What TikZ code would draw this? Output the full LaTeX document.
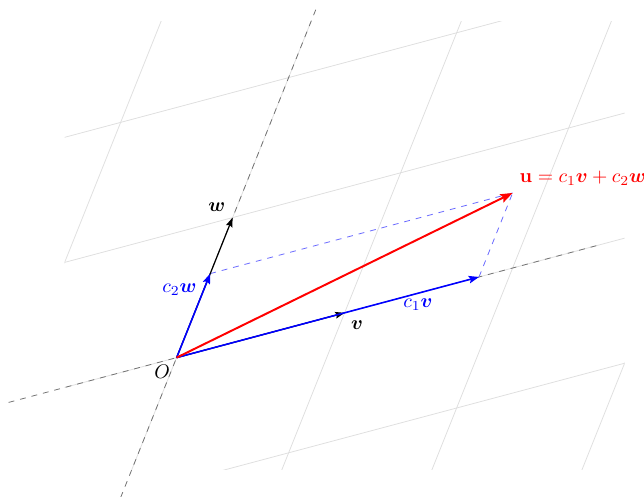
\documentclass[tikz,border=0pt]{standalone}
\usepackage{amsmath}
\usetikzlibrary{arrows.meta}
\begin{document}
\begin{tikzpicture}[x=1cm,y=1cm,
  gridline/.style={gray!25, line width=0.4pt},
  axisline/.style={black!55, dashed, line width=0.4pt},
  helper/.style={blue!60, dashed, line width=0.4pt},
  basevec/.style={black, line width=0.6pt, -{Stealth[length=4.8pt,width=3.4pt,inset=0.8pt]}},
  compvec/.style={blue, line width=0.8pt, -{Stealth[length=5.2pt,width=3.8pt,inset=0.9pt]}},
  sumvec/.style={red, line width=1pt, -{Stealth[length=6.2pt,width=4.5pt,inset=1pt]}},
  lbl/.style={inner sep=0pt},
]
\useasboundingbox (-3.154,-2.489) rectangle (8.346,6.386);
% skew grid
\begin{scope}
  \clip (-2,-2) rectangle (8,6);
  \foreach \i in {-1,...,3}
    \draw[gridline] ({3*\i-3},{0.8*\i-7.5}) -- ({3*\i+4},{0.8*\i+10});
  \foreach \j in {-1,...,2}
    \draw[gridline] ({\j-9},{2.5*\j-2.4}) -- ({\j+12},{2.5*\j+3.2});
\end{scope}
% points
\coordinate (O) at (0,0);
\coordinate (v) at (3,0.8);
\coordinate (w) at (1,2.5);
\coordinate (c1v) at (5.4,1.44);
\coordinate (c2w) at (0.6,1.5);
\coordinate (u) at (6,2.94);
\coordinate (vneg) at (-3,-0.8);
\coordinate (vpos) at (7.5,2);
\coordinate (wneg) at (-1,-2.5);
\coordinate (wpos) at (2.5,6.25);
% axes
\draw[axisline] (vneg) -- (vpos);
\draw[axisline] (wneg) -- (wpos);
% parallelogram helpers
\draw[helper] (c2w) -- (u);
\draw[helper] (c1v) -- (u);
% vectors
\draw[basevec] (O) -- (v);
\draw[basevec] (O) -- (w);
\draw[compvec] (O) -- (c1v);
\draw[compvec] (O) -- (c2w);
\draw[sumvec] (O) -- (u);
% labels
\node[lbl] (lO) at (-0.26,-0.26) {$O$};
\node[lbl] (lw) at (0.72,2.69) {$\boldsymbol{w}$};
\node[lbl] (lv) at (3.22,0.58) {$\boldsymbol{v}$};
\node[lbl, blue] (lc2w) at (0.05,1.22) {$c_2\boldsymbol{w}$};
\node[lbl, blue] (lc1v) at (4.31,0.94) {$c_1\boldsymbol{v}$};
\node[lbl, red, anchor=west] (lu) at (6.12,3.21) {$\mathbf{u}=c_1\boldsymbol{v}+c_2\boldsymbol{w}$};
\end{tikzpicture}
\end{document}
